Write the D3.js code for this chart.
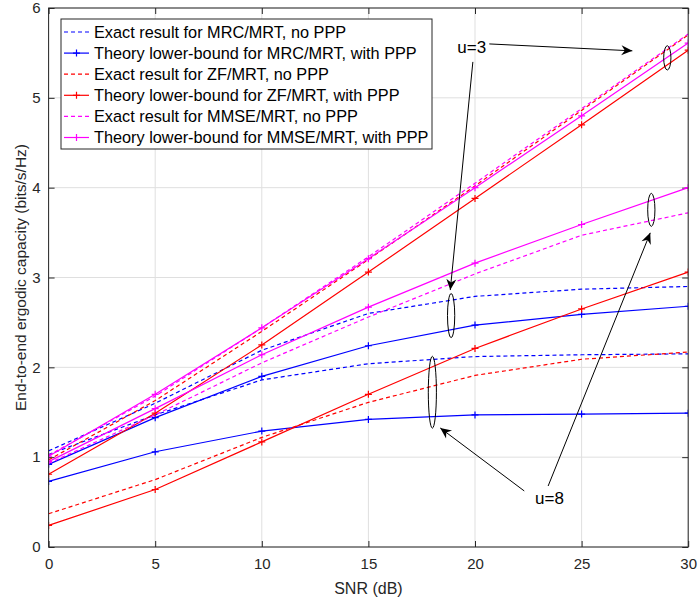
<!DOCTYPE html>
<html>
<head>
<meta charset="utf-8">
<script src="https://cdn.jsdelivr.net/npm/d3@7/dist/d3.min.js"></script>
<style>
  html, body { margin: 0; padding: 0; background: #fff; }
  svg { display: block; font-family: "Liberation Sans", Arial, Helvetica, sans-serif; }
</style>
</head>
<body>
<div id="chart"></div>
<script>
// ---------------- data ----------------
const snr = [0, 5, 10, 15, 20, 25, 30];
const xTicks = [0, 5, 10, 15, 20, 25, 30];
const yTicks = [0, 1, 2, 3, 4, 5, 6];

// u = 3
const mrcExactU3  = [1.07, 1.60, 2.19, 2.60, 2.79, 2.87, 2.90];
const mrcBoundU3  = [0.92, 1.44, 1.90, 2.24, 2.47, 2.59, 2.68];
const zfExactU3   = [0.97, 1.63, 2.40, 3.20, 4.02, 4.86, 5.70];
const zfBoundU3   = [0.81, 1.49, 2.25, 3.06, 3.88, 4.70, 5.53];
const mmseExactU3 = [1.02, 1.68, 2.44, 3.23, 4.05, 4.88, 5.71];
const mmseBoundU3 = [1.01, 1.70, 2.44, 3.21, 4.00, 4.80, 5.61];
// u = 8
const mrcExactU8  = [1.03, 1.47, 1.86, 2.04, 2.12, 2.14, 2.15];
const mrcBoundU8  = [0.73, 1.06, 1.29, 1.42, 1.47, 1.48, 1.49];
const zfExactU8   = [0.37, 0.75, 1.22, 1.61, 1.91, 2.09, 2.17];
const zfBoundU8   = [0.24, 0.64, 1.17, 1.70, 2.21, 2.65, 3.06];
const mmseExactU8 = [0.93, 1.47, 2.05, 2.56, 3.04, 3.47, 3.72];
const mmseBoundU8 = [0.95, 1.54, 2.14, 2.67, 3.16, 3.59, 4.00];

const legendLabels = [
  "Exact result for MRC/MRT, no PPP",
  "Theory lower-bound for MRC/MRT, with PPP",
  "Exact result for ZF/MRT, no PPP",
  "Theory lower-bound for ZF/MRT, with PPP",
  "Exact result for MMSE/MRT, no PPP",
  "Theory lower-bound for MMSE/MRT, with PPP"
];
const seriesColors = ["#0000ff", "#0000ff", "#ff0000", "#ff0000", "#ff00ff", "#ff00ff"];
const seriesDashed = [true, false, true, false, true, false];
const seriesU3 = [mrcExactU3, mrcBoundU3, zfExactU3, zfBoundU3, mmseExactU3, mmseBoundU3];
const seriesU8 = [mrcExactU8, mrcBoundU8, zfExactU8, zfBoundU8, mmseExactU8, mmseBoundU8];

// annotations in data coordinates
const ellipses = [
  { x: 29.02, y: 5.445, rx: 0.17, ry: 0.135 },
  { x: 18.88, y: 2.576, rx: 0.17, ry: 0.245 },
  { x: 18.00, y: 1.723, rx: 0.19, ry: 0.40 },
  { x: 28.27, y: 3.753, rx: 0.17, ry: 0.184 }
];
const arrows = [
  { x1: 20.67, y1: 5.600, x2: 27.38, y2: 5.523 },
  { x1: 19.90, y1: 5.400, x2: 18.84, y2: 2.860 },
  { x1: 22.31, y1: 0.624, x2: 18.37, y2: 1.325 },
  { x1: 23.43, y1: 0.679, x2: 28.22, y2: 3.497 }
];
const notes = [
  { text: "u=3", x: 19.17, y: 5.568 },
  { text: "u=8", x: 22.82, y: 0.546 }
];

// ---------------- layout ----------------
const W = 698, H = 602;
const L = 48.6, R = 688.2, T = 8, B = 547;

const svg = d3.select("#chart").append("svg")
  .attr("width", W).attr("height", H);

const x = d3.scaleLinear().domain([0, 30]).range([L, R]);
const y = d3.scaleLinear().domain([0, 6]).range([B, T]);

const defs = svg.append("defs");
defs.append("marker")
  .attr("id", "arrowhead")
  .attr("viewBox", "-12 -6 14 12")
  .attr("refX", 0).attr("refY", 0)
  .attr("markerWidth", 14).attr("markerHeight", 12)
  .attr("markerUnits", "userSpaceOnUse")
  .attr("orient", "auto")
  .append("path")
  .attr("d", "M0,0 L-11,-5 L-7.5,0 L-11,5 Z")
  .attr("fill", "#000");

defs.append("clipPath").attr("id", "plotclip")
  .append("rect").attr("x", L).attr("y", T).attr("width", R - L).attr("height", B - T);

// grid
const grid = svg.append("g");
grid.selectAll(".gx").data(xTicks).enter().append("line")
  .attr("x1", d => x(d)).attr("x2", d => x(d)).attr("y1", T).attr("y2", B)
  .attr("stroke", "#dfdfdf").attr("stroke-width", 1);
grid.selectAll(".gy").data(yTicks).enter().append("line")
  .attr("x1", L).attr("x2", R).attr("y1", d => y(d)).attr("y2", d => y(d))
  .attr("stroke", "#dfdfdf").attr("stroke-width", 1);

// axes (ticks inward, MATLAB style)
const tickLen = 6;
const axisColor = "#262626";
const fmt = d3.format("d");
const xAxis = svg.append("g").attr("transform", `translate(0,${B})`)
  .call(d3.axisBottom(x).tickValues(xTicks).tickFormat(fmt).tickSizeInner(-tickLen).tickSizeOuter(0).tickPadding(11));
const xAxisTop = svg.append("g").attr("transform", `translate(0,${T})`)
  .call(d3.axisTop(x).tickValues(xTicks).tickSizeInner(-tickLen).tickSizeOuter(0).tickFormat(""));
const yAxis = svg.append("g").attr("transform", `translate(${L},0)`)
  .call(d3.axisLeft(y).tickValues(yTicks).tickFormat(fmt).tickSizeInner(-tickLen).tickSizeOuter(0).tickPadding(8));
const yAxisRight = svg.append("g").attr("transform", `translate(${R},0)`)
  .call(d3.axisRight(y).tickValues(yTicks).tickSizeInner(-tickLen).tickSizeOuter(0).tickFormat(""));
[xAxis, xAxisTop, yAxis, yAxisRight].forEach(g => {
  g.select(".domain").remove();
  g.selectAll(".tick line").attr("stroke", axisColor).attr("stroke-width", 1);
  g.selectAll("text").attr("fill", axisColor).style("font-size", "15px")
    .style("font-family", "'Liberation Sans', Arial, sans-serif");
});
xAxis.selectAll("text").attr("dy", "0.71em");

// series lines
const lineGen = d3.line().x((d, i) => x(snr[i])).y(d => y(d));
const plot = svg.append("g").attr("clip-path", "url(#plotclip)");
const plusPath = s => `M${-s},0H${s}M0,${-s}V${s}`;

function drawSeries(values, k) {
  plot.append("path").datum(values)
    .attr("d", lineGen)
    .attr("fill", "none")
    .attr("stroke", seriesColors[k])
    .attr("stroke-width", 1.2)
    .attr("stroke-dasharray", seriesDashed[k] ? "4,3" : null);
  if (!seriesDashed[k]) {
    plot.selectAll(null).data(values).enter().append("path")
      .attr("d", plusPath(3.5))
      .attr("transform", (d, i) => `translate(${x(snr[i])},${y(d)})`)
      .attr("stroke", seriesColors[k]).attr("stroke-width", 1.2).attr("fill", "none");
  }
}
for (let k = 0; k < 6; k++) {
  drawSeries(seriesU3[k], k);
  drawSeries(seriesU8[k], k);
}

// box
svg.append("rect").attr("x", L).attr("y", T).attr("width", R - L).attr("height", B - T)
  .attr("fill", "none").attr("stroke", axisColor).attr("stroke-width", 1);

// annotations
const ann = svg.append("g");
ann.selectAll("ellipse").data(ellipses).enter().append("ellipse")
  .attr("cx", d => x(d.x)).attr("cy", d => y(d.y))
  .attr("rx", d => x(d.rx) - x(0)).attr("ry", d => y(0) - y(d.ry))
  .attr("fill", "none").attr("stroke", "#000").attr("stroke-width", 1);
ann.selectAll("line").data(arrows).enter().append("line")
  .attr("x1", d => x(d.x1)).attr("y1", d => y(d.y1))
  .attr("x2", d => x(d.x2)).attr("y2", d => y(d.y2))
  .attr("stroke", "#000").attr("stroke-width", 1)
  .attr("marker-end", "url(#arrowhead)");
ann.selectAll("text").data(notes).enter().append("text")
  .attr("x", d => x(d.x)).attr("y", d => y(d.y))
  .attr("dy", "0.35em")
  .style("font-size", "17px").attr("fill", "#000")
  .text(d => d.text);

// axis labels
svg.append("text").attr("x", (L + R) / 2).attr("y", 594)
  .attr("text-anchor", "middle").style("font-size", "16px").attr("fill", axisColor)
  .text("SNR (dB)");
svg.append("text")
  .attr("transform", `translate(21,${(T + B) / 2}) rotate(-90)`)
  .attr("text-anchor", "middle").attr("dy", "0.35em")
  .style("font-size", "15.5px").attr("fill", axisColor)
  .text("End-to-end ergodic capacity (bits/s/Hz)");

// legend
const lg = svg.append("g");
const lgX = 61, lgY = 19, lgW = 371, lgH = 130, rowH = 21.1, row0 = 32;
lg.append("rect").attr("x", lgX).attr("y", lgY).attr("width", lgW).attr("height", lgH)
  .attr("fill", "#fff").attr("stroke", axisColor).attr("stroke-width", 1);
legendLabels.forEach((lab, k) => {
  const cy = row0 + k * rowH;
  lg.append("line").attr("x1", 64).attr("x2", 89).attr("y1", cy).attr("y2", cy)
    .attr("stroke", seriesColors[k]).attr("stroke-width", 1.2)
    .attr("stroke-dasharray", seriesDashed[k] ? "4,3" : null);
  if (!seriesDashed[k]) {
    lg.append("path").attr("d", plusPath(3.5))
      .attr("transform", `translate(76.5,${cy})`)
      .attr("stroke", seriesColors[k]).attr("stroke-width", 1.2);
  }
  lg.append("text").attr("x", 94).attr("y", cy).attr("dy", "0.35em")
    .style("font-size", "16.3px").attr("fill", "#000").text(lab);
});
</script>
</body>
</html>
